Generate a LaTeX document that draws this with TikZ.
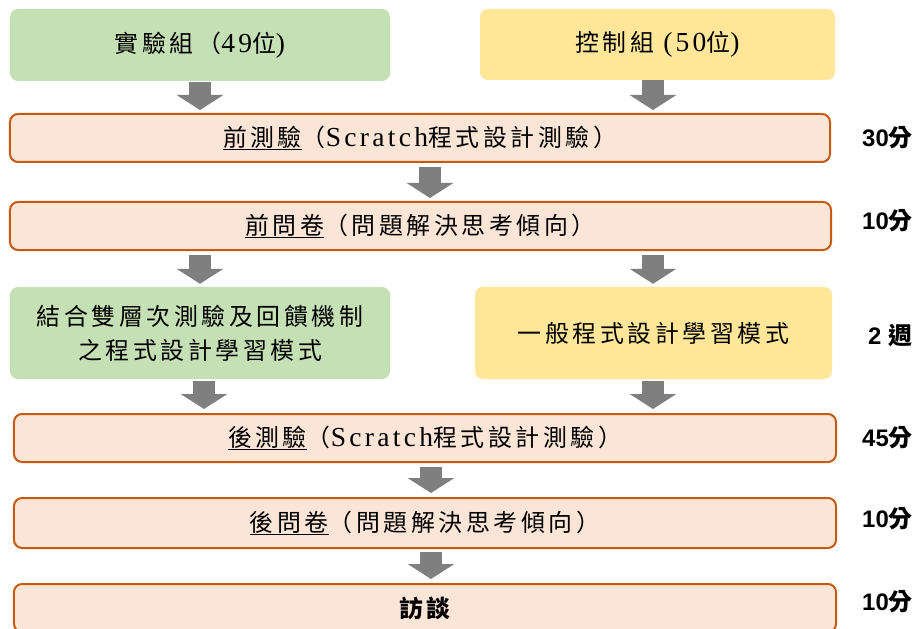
\documentclass[tikz,border=0pt]{standalone}
\usepackage{fontspec}
\setmainfont{Noto Sans CJK TC}[LetterSpace=15]
\newfontfamily\lat{Liberation Serif}[LetterSpace=12,Scale=1.15]
\newfontfamily\labfont{Liberation Sans}
\newfontfamily\labcjk{Noto Sans CJK TC}
\usetikzlibrary{arrows.meta}
\definecolor{gfill}{HTML}{C5E0B4}
\definecolor{yfill}{HTML}{FFE699}
\definecolor{pfill}{HTML}{FBE5D6}
\definecolor{obord}{HTML}{C55A11}
\definecolor{arrgray}{HTML}{7F7F7F}
\begin{document}
\begin{tikzpicture}[x=1bp,y=-1bp,
  box/.style={rounded corners=8bp, inner sep=0pt, align=center, font=\fontsize{24}{34}\selectfont},
  grp/.style={box, fill=gfill},
  ctl/.style={box, fill=yfill},
  stage/.style={box, fill=pfill, draw=obord, line width=2bp},
  blk/.style={draw=arrgray, line width=22bp, -{Triangle[width=46bp,length=15bp]}},
  lab/.style={anchor=west, inner sep=0pt, font=\fontsize{24}{24}\selectfont\bfseries}]
\useasboundingbox (0,0) rectangle (920,629);
\clip (0,0) rectangle (920,629);
\fill[white] (0,0) rectangle (920,629);

\node[grp, minimum width=380bp, minimum height=72bp] (g1) at (200,45) {實驗組（{\lat 49}位{\lat )}};
\node[ctl, minimum width=355bp, minimum height=71bp] (c1) at (657.5,44.5) {控制組 {\lat (50}位{\lat )}};

\node[stage, minimum width=820bp, minimum height=48bp] (p1) at (420,138) {\underline{前測驗}（{\lat Scratch}程式設計測驗）};
\node[lab] (t1) at (862,138) {{\labfont 30}{\labcjk 分}};

\node[stage, minimum width=821bp, minimum height=48bp] (p2) at (420.5,226) {\underline{前問卷}（問題解決思考傾向）};
\node[lab] (t2) at (862,221) {{\labfont 10}{\labcjk 分}};

\node[grp, minimum width=380bp, minimum height=92bp] (g2) at (200,333) {結合雙層次測驗及回饋機制\\之程式設計學習模式};
\node[ctl, minimum width=357bp, minimum height=92bp] (c2) at (653.5,333) {一般程式設計學習模式};
\node[lab] (t3) at (868,335) {{\labfont 2 }{\labcjk 週}};

\node[stage, minimum width=822bp, minimum height=48bp] (p3) at (425,438) {\underline{後測驗}（{\lat Scratch}程式設計測驗）};
\node[lab] (t4) at (862,438) {{\labfont 45}{\labcjk 分}};

\node[stage, minimum width=822bp, minimum height=50bp] (p4) at (425,523) {\underline{後問卷}（問題解決思考傾向）};
\node[lab] (t5) at (862,519) {{\labfont 10}{\labcjk 分}};

\node[stage, minimum width=822bp, minimum height=48bp] (p5) at (425,608) {\bfseries 訪談};
\node[lab] (t6) at (862,602) {{\labfont 10}{\labcjk 分}};

\draw[blk] ([yshift=-1bp]g1.south) -- ([yshift=3bp]g1.south |- p1.north);
\coordinate (a2) at ([xshift=-4.5bp,yshift=0bp]c1.south);
\draw[blk] (a2) -- ([yshift=3bp]a2 |- p1.north);
\coordinate (a3) at ([xshift=10bp,yshift=-4bp]p1.south);
\draw[blk] (a3) -- ([yshift=3bp]a3 |- p2.north);
\coordinate (a4) at ([xshift=-220.5bp,yshift=-4bp]p2.south);
\draw[blk] (a4) -- ([yshift=3bp]a4 |- g2.north);
\coordinate (a5) at ([xshift=232.5bp,yshift=-4bp]p2.south);
\draw[blk] (a5) -- ([yshift=3bp]a5 |- c2.north);
\coordinate (a6) at ([xshift=4bp,yshift=-2bp]g2.south);
\draw[blk] (a6) -- ([yshift=4bp]a6 |- p3.north);
\coordinate (a7) at ([xshift=-0.5bp,yshift=-2bp]c2.south);
\draw[blk] (a7) -- ([yshift=4bp]a7 |- p3.north);
\coordinate (a8) at ([xshift=6bp,yshift=-4bp]p3.south);
\draw[blk] (a8) -- ([yshift=4bp]a8 |- p4.north);
\coordinate (a9) at ([xshift=6bp,yshift=-3bp]p4.south);
\draw[blk] (a9) -- ([yshift=4bp]a9 |- p5.north);
\end{tikzpicture}
\end{document}
